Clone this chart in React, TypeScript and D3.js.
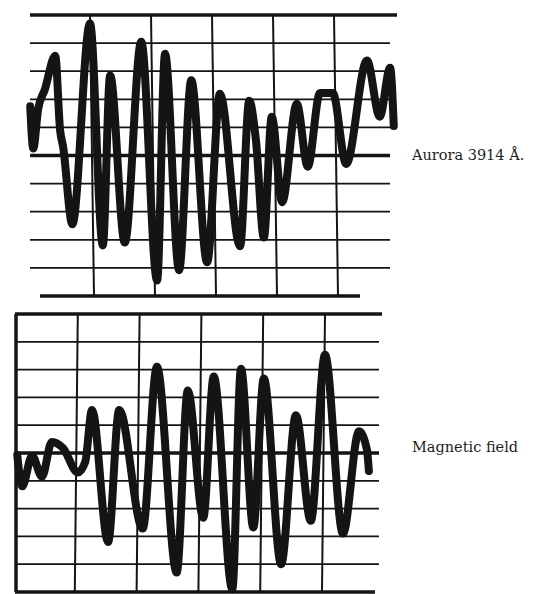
import React from 'react';
import * as d3 from 'd3';

// Aurora 3914 Å photometer trace: time in chart divisions, intensity in grid divisions
const auroraTime = [0.02, 0.07, 0.15, 0.26, 0.43, 0.51, 0.56, 0.71, 1.0, 1.21, 1.33, 1.57, 1.84, 2.1, 2.23, 2.46, 2.66, 2.92, 3.13, 3.46, 3.61, 3.72, 3.85, 3.98, 4.15, 4.39, 4.57, 4.77, 4.98, 5.2, 5.54, 5.75, 5.92, 5.98];
const auroraValue = [1.75, 0.25, 1.65, 2.35, 3.55, 0.9, 0.3, -2.45, 4.7, -3.2, 2.85, -3.1, 4.05, -4.45, 3.62, -4.08, 2.68, -3.8, 2.2, -3.23, 1.95, 0.55, -2.92, 1.38, -1.66, 1.84, -0.4, 2.22, 2.22, -0.3, 3.38, 1.38, 3.12, 1.05];

// Magnetic field trace
const magTime = [0.02, 0.1, 0.26, 0.42, 0.58, 0.76, 1.0, 1.12, 1.23, 1.49, 1.67, 2.05, 2.28, 2.6, 2.78, 3.03, 3.2, 3.5, 3.64, 3.84, 4.01, 4.29, 4.53, 4.77, 5.0, 5.29, 5.55, 5.68, 5.71];
const magValue = [-0.07, -1.2, -0.1, -0.85, 0.4, 0.18, -0.7, -0.32, 1.55, -3.2, 1.55, -2.72, 3.1, -4.3, 2.25, -2.33, 2.75, -4.9, 3.03, -2.68, 2.68, -4.0, 1.36, -2.44, 3.53, -2.9, 0.78, 0.1, -0.65];

const gridDivisions = [-5, -4, -3, -2, -1, 0, 1, 2, 3, 4, 5];
const timeDivisions = [1, 2, 3, 4, 5];
const labels = ['Aurora 3914 Å.', 'Magnetic field'];

const INK = '#141414';

function Panel({ x, y, hx1, hx2, slant, time, value, border, label, labelX, labelY, topExtra, bottomRange, traceWidth }: any) {
  const line = d3
    .line<number>()
    .x((_, i) => x(time[i]))
    .y((d) => y(d))
    .curve(d3.curveMonotoneX);
  const yTop = y(5);
  const yBot = y(-5);
  return (
    <g>
      {gridDivisions.map((g) => {
        const heavy = g === 0 || Math.abs(g) === 5;
        let x1 = hx1;
        let x2 = hx2;
        if (g === 5 && topExtra) x2 = topExtra;
        if (g === -5 && bottomRange) {
          x1 = bottomRange[0];
          x2 = bottomRange[1];
        }
        return (
          <line
            key={'h' + g}
            x1={x1}
            x2={x2}
            y1={y(g)}
            y2={y(g)}
            stroke={INK}
            strokeWidth={heavy ? 3.5 : 1.8}
          />
        );
      })}
      {timeDivisions.map((t) => (
        <line
          key={'v' + t}
          x1={x(t)}
          x2={x(t) + slant}
          y1={yTop}
          y2={yBot}
          stroke={INK}
          strokeWidth={2}
        />
      ))}
      {border && (
        <line x1={x(0)} x2={x(0)} y1={yTop} y2={yBot} stroke={INK} strokeWidth={3.5} />
      )}
      <path
        d={line(value) || ''}
        fill="none"
        stroke={INK}
        strokeWidth={traceWidth}
        strokeLinejoin="round"
        strokeLinecap="round"
      />
      <text
        x={labelX}
        y={labelY}
        fontFamily="'DejaVu Serif', serif"
        fontSize={14.5}
        fill="#1e1e1e"
      >
        {label}
      </text>
    </g>
  );
}

export default function App() {
  const W = 535;
  const H = 594;
  const xA = d3.scaleLinear().domain([0, 6]).range([29, 395]);
  const yA = d3.scaleLinear().domain([-5, 5]).range([296, 15]);
  const xM = d3.scaleLinear().domain([0, 6]).range([16, 386.8]);
  const yM = d3.scaleLinear().domain([-5, 5]).range([592, 314]);

  return (
    <svg
      width={W}
      height={H}
      viewBox={`0 0 ${W} ${H}`}
      style={{ position: 'absolute', left: 0, top: 0, background: '#fff' }}
    >
      <rect width={W} height={H} fill="#fff" />
      <Panel
        x={xA}
        y={yA}
        hx1={30}
        hx2={390}
        slant={4}
        time={auroraTime}
        value={auroraValue}
        border={false}
        label={labels[0]}
        labelX={412}
        labelY={160}
        topExtra={397}
        bottomRange={[40, 360]}
        traceWidth={8}
      />
      <Panel
        x={xM}
        y={yM}
        hx1={15}
        hx2={379}
        slant={-3}
        time={magTime}
        value={magValue}
        border={true}
        label={labels[1]}
        labelX={412}
        labelY={452}
        topExtra={382}
        bottomRange={[15, 375]}
        traceWidth={8}
      />
    </svg>
  );
}
